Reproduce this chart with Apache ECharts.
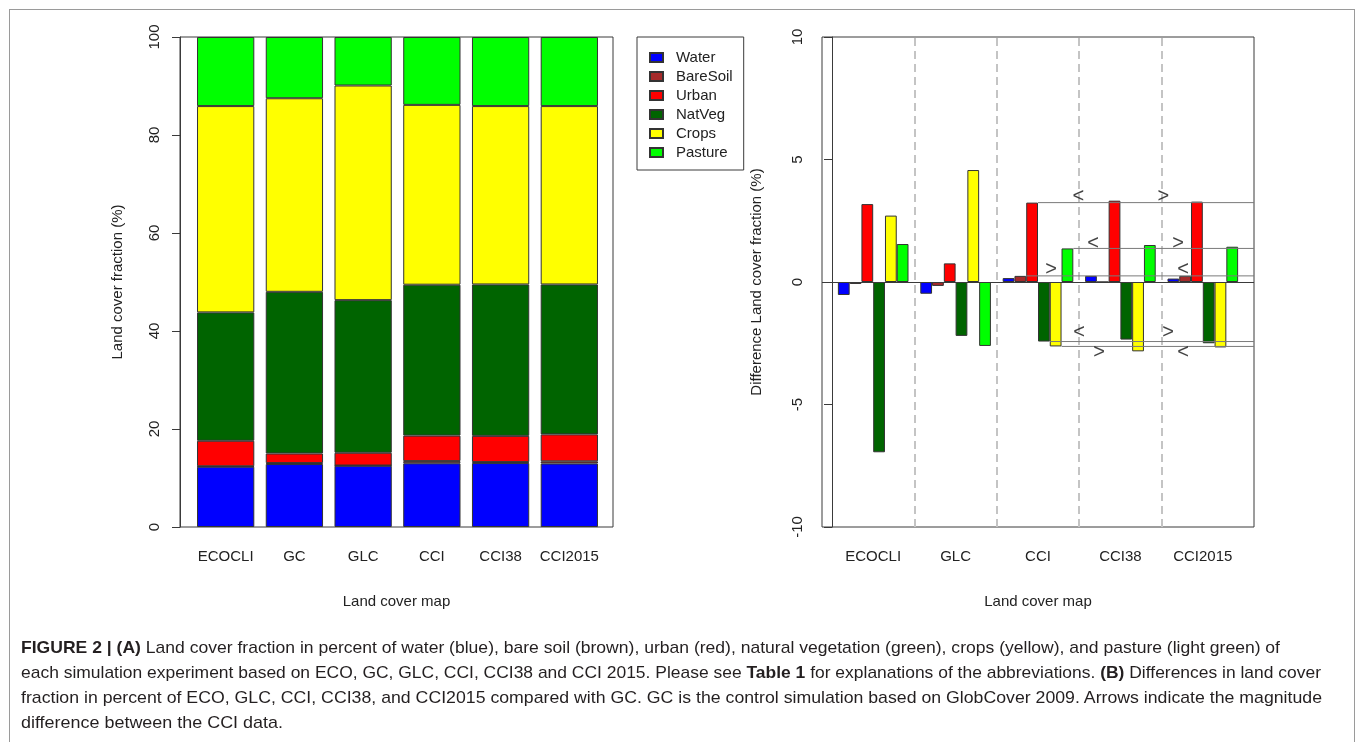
<!DOCTYPE html>
<html>
<head>
<meta charset="utf-8">
<title>Land cover fraction</title>
<script src="https://cdn.jsdelivr.net/npm/echarts@6/dist/echarts.min.js"></script>
<style>
  html, body { margin: 0; padding: 0; background: #fff; }
  #frame { position: absolute; left: 9px; top: 9px; width: 1346px; height: 745px;
           box-sizing: border-box; border: 1px solid #9a9a9a; }
  #chart { position: absolute; left: 0; top: 0; width: 1355px; height: 742px; }
  #caption { position: absolute; left: 21px; top: 635px; white-space: nowrap;
             font-family: "Liberation Sans Narrow", "Liberation Sans", Arial, sans-serif;
             font-size: 17px; line-height: 25px; color: #231f20; }
  #caption .t { display: inline-block; transform-origin: 0 0; }
  #caption b { font-weight: bold; }
</style>
</head>
<body>
<div id="frame"></div>
<div id="chart"></div>
<div id="caption">
  <div><span class="t" data-w="1259"><b>FIGURE 2 | (A)</b> Land cover fraction in percent of water (blue), bare soil (brown), urban (red), natural vegetation (green), crops (yellow), and pasture (light green) of</span></div>
  <div><span class="t" data-w="1300">each simulation experiment based on ECO, GC, GLC, CCI, CCI38 and CCI 2015. Please see <b>Table 1</b> for explanations of the abbreviations. <b>(B)</b> Differences in land cover</span></div>
  <div><span class="t" data-w="1301">fraction in percent of ECO, GLC, CCI, CCI38, and CCI2015 compared with GC. GC is the control simulation based on GlobCover 2009. Arrows indicate the magnitude</span></div>
  <div><span class="t" data-w="262">difference between the CCI data.</span></div>
</div>
<script>
// ---- data ---------------------------------------------------------------
// (A) land cover fraction (%) per land cover map
const mapsA = ['ECOCLI', 'GC', 'GLC', 'CCI', 'CCI38', 'CCI2015'];
const fracWater    = [12.3, 12.85, 12.5, 13.0, 13.05, 12.95];
const fracBareSoil = [0.1, 0.2, 0.05, 0.45, 0.2, 0.45];
const fracUrban    = [5.2, 1.95, 2.6, 5.2, 5.35, 5.5];
const fracNatVeg   = [26.2, 33.0, 31.15, 30.8, 30.9, 30.6];
const fracCrops    = [42.1, 39.5, 43.8, 36.7, 36.4, 36.4];
const fracPasture  = [14.1, 12.5, 9.9, 13.85, 14.1, 14.1];

// (B) difference in land cover fraction (%) relative to GC
const mapsB = ['ECOCLI', 'GLC', 'CCI', 'CCI38', 'CCI2015'];
const diffWater    = [-0.53, -0.48, 0.16, 0.25, 0.14];
const diffBareSoil = [-0.08, -0.16, 0.25, 0.0, 0.25];
const diffUrban    = [3.18, 0.76, 3.24, 3.32, 3.28];
const diffNatVeg   = [-6.95, -2.2, -2.43, -2.35, -2.5];
const diffCrops    = [2.71, 4.57, -2.63, -2.83, -2.67];
const diffPasture  = [1.55, -2.61, 1.37, 1.51, 1.44];

const classNames = ['Water', 'BareSoil', 'Urban', 'NatVeg', 'Crops', 'Pasture'];
const ticksA = [0, 20, 40, 60, 80, 100];
const ticksB = [-10, -5, 0, 5, 10];

// ---- styles / layout ------------------------------------------------------
const classColors = ['#0000ff', '#a52a2a', '#ff0000', '#006400', '#ffff00', '#00ff00'];
const FONT = '"Liberation Sans", Arial, sans-serif';
const INK = '#222';
const AXIS = '#3a3a3a';
const plotTop = 37, plotH = 490;
// panel A: box and bar band
const boxA = { left: 180, width: 433 };
const barsA = { left: 191.3, width: 412.4 };
// panel B: box and bar band
const boxB = { left: 822, width: 432 };
const barsB = { left: 832, width: 412 };
const catW = barsB.width / mapsB.length;                 // px per map group
const padB = (barsB.left - boxB.left) / catW;            // box overhang, in group units
const barUnit = 1 / 7;                                   // 6 bars + 1 gap per group
// arrow placement per compared class (group units / value offset)
const arrowLayout = {
  Urban:    { x: [2.99, 4.02], dy: 0.27 },
  Pasture:  { x: [3.17, 4.20], dy: 0.22 },
  BareSoil: { x: [2.66, 4.26], dy: 0.28 },
  NatVeg:   { x: [3.00, 4.08], dy: 0.35 },
  Crops:    { x: [3.24, 4.26], dy: -0.23 }
};

const fracSeries = [fracWater, fracBareSoil, fracUrban, fracNatVeg, fracCrops, fracPasture];
const diffSeries = [diffWater, diffBareSoil, diffUrban, diffNatVeg, diffCrops, diffPasture];

const barStyle = (i) => ({ color: classColors[i], borderColor: '#333', borderWidth: 1 });

const series = [];
// stacked bars, panel A
fracSeries.forEach((vals, i) => {
  series.push({
    name: classNames[i], type: 'bar', stack: 'frac',
    xAxisIndex: 0, yAxisIndex: 0,
    barCategoryGap: '16.667%',
    itemStyle: barStyle(i),
    emphasis: { disabled: true },
    data: vals
  });
});
// grouped bars, panel B
diffSeries.forEach((vals, i) => {
  series.push({
    name: classNames[i], type: 'bar',
    xAxisIndex: 2, yAxisIndex: 2,
    barGap: '0%', barCategoryGap: '14.2857%',
    itemStyle: barStyle(i),
    emphasis: { disabled: true },
    data: vals
  });
});

// reference lines at the CCI value of each compared class
const iCCI = mapsB.indexOf('CCI'), iC38 = mapsB.indexOf('CCI38'), iC15 = mapsB.indexOf('CCI2015');
const arrowData = [];
Object.keys(arrowLayout).forEach((cls) => {
  const k = classNames.indexOf(cls);
  const vals = diffSeries[k];
  const v = vals[iCCI];
  const xStart = iCCI + 0.5 + (k - 2) * barUnit;   // right edge of the CCI bar
  series.push({
    name: 'ref-' + cls, type: 'line', xAxisIndex: 3, yAxisIndex: 3,
    symbol: 'none', silent: true, z: 6, clip: false,
    lineStyle: { color: '#7a7a7a', width: 1 },
    data: [[xStart, v], [mapsB.length + padB, v]]
  });
  const lay = arrowLayout[cls];
  const s1 = vals[iCCI] < vals[iC38] ? '<' : '>';
  const s2 = vals[iC38] < vals[iC15] ? '<' : '>';
  arrowData.push([lay.x[0], v + lay.dy, s1]);
  arrowData.push([lay.x[1], v + lay.dy, s2]);
});
series.push({
  name: 'arrows', type: 'scatter', xAxisIndex: 3, yAxisIndex: 3,
  symbol: 'circle', symbolSize: 0, silent: true, z: 7,
  label: { show: true, position: 'inside', formatter: (p) => p.data[2],
           fontFamily: FONT, fontSize: 20, color: '#111' },
  data: arrowData,
  // group separators and zero line
  markLine: {
    silent: true, symbol: 'none', label: { show: false },
    data: [1, 2, 3, 4].map((x) => ({
      xAxis: x, lineStyle: { type: [8, 5], color: '#c4c4c4', width: 2 }
    })).concat([{ yAxis: 0, lineStyle: { type: 'solid', color: AXIS, width: 1 } }])
  }
});

const hiddenAxis = { show: false };
const option = {
  animation: false,
  textStyle: { fontFamily: FONT },
  grid: [
    { left: barsA.left, width: barsA.width, top: plotTop, height: plotH },
    { left: boxA.left, width: boxA.width, top: plotTop, height: plotH,
      show: true, borderColor: AXIS, borderWidth: 1, backgroundColor: 'transparent' },
    { left: barsB.left, width: barsB.width, top: plotTop, height: plotH },
    { left: boxB.left, width: boxB.width, top: plotTop, height: plotH,
      show: true, borderColor: AXIS, borderWidth: 1, backgroundColor: 'transparent' }
  ],
  xAxis: [
    { type: 'category', gridIndex: 0, data: mapsA,
      axisLine: { show: false }, axisTick: { show: false },
      axisLabel: { fontSize: 15, color: INK, margin: 22, interval: 0 } },
    { type: 'value', gridIndex: 1, min: 0, max: 1,
      axisLine: { show: false }, axisTick: { show: false }, axisLabel: { show: false },
      splitLine: { show: false },
      name: 'Land cover map', nameLocation: 'middle', nameGap: 67,
      nameTextStyle: { fontSize: 15, color: INK } },
    { type: 'category', gridIndex: 2, data: mapsB,
      axisLine: { show: false }, axisTick: { show: false },
      axisLabel: { fontSize: 15, color: INK, margin: 22, interval: 0 } },
    { type: 'value', gridIndex: 3, min: -padB, max: mapsB.length + padB,
      axisLine: { show: false }, axisTick: { show: false }, axisLabel: { show: false },
      splitLine: { show: false },
      name: 'Land cover map', nameLocation: 'middle', nameGap: 67,
      nameTextStyle: { fontSize: 15, color: INK } }
  ],
  yAxis: [
    Object.assign({ type: 'value', gridIndex: 0, min: ticksA[0], max: ticksA[ticksA.length - 1] }, hiddenAxis),
    { type: 'value', gridIndex: 1, min: ticksA[0], max: ticksA[ticksA.length - 1], interval: 20,
      axisLine: { show: true, lineStyle: { color: AXIS } },
      axisTick: { show: true, length: 8, lineStyle: { color: AXIS } },
      axisLabel: { rotate: 90, fontSize: 15, color: INK, margin: 18 },
      splitLine: { show: false },
      name: 'Land cover fraction (%)', nameLocation: 'middle', nameGap: 55,
      nameTextStyle: { fontSize: 15, color: INK } },
    Object.assign({ type: 'value', gridIndex: 2, min: ticksB[0], max: ticksB[ticksB.length - 1] }, hiddenAxis),
    { type: 'value', gridIndex: 3, min: ticksB[0], max: ticksB[ticksB.length - 1], interval: 5,
      axisLine: { show: true, lineStyle: { color: AXIS } },
      axisTick: { show: true, length: 8, lineStyle: { color: AXIS } },
      axisLabel: { rotate: 90, fontSize: 15, color: INK, margin: 17 },
      splitLine: { show: false },
      name: 'Difference Land cover fraction (%)', nameLocation: 'middle', nameGap: 58,
      nameTextStyle: { fontSize: 15, color: INK } }
  ],
  legend: {
    data: classNames, orient: 'vertical', left: 637, top: 37,
    padding: [13, 11, 10, 12], itemGap: 4, itemWidth: 13, itemHeight: 9,
    borderColor: AXIS, borderWidth: 1, icon: 'rect', selectedMode: false,
    textStyle: { fontSize: 15, color: INK, padding: [0, 0, 0, 8] }
  },
  series: series
};

const chart = echarts.init(document.getElementById('chart'), null, { renderer: 'canvas' });
chart.setOption(option);

// set each caption line to its printed width
document.querySelectorAll('#caption .t').forEach((el) => {
  const natural = el.getBoundingClientRect().width;
  el.style.transform = 'scaleX(' + (Number(el.dataset.w) / natural) + ')';
});
</script>
</body>
</html>
